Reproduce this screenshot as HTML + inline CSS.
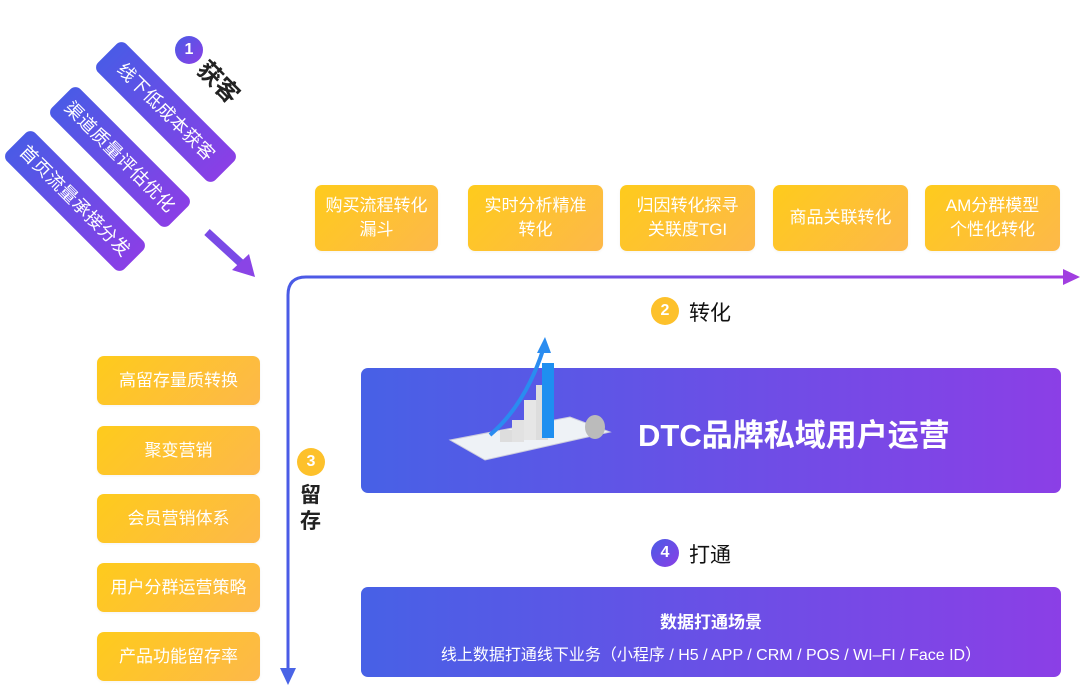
<!DOCTYPE html>
<html><head><meta charset="utf-8"><style>
body{margin:0;width:1080px;height:685px;background:#fff;position:relative;overflow:hidden;font-family:"Liberation Sans","Noto Sans CJK SC",sans-serif}
.a{position:absolute}
.card{position:absolute;width:166px;height:40px;border-radius:7px;background:linear-gradient(90deg,#4a5be6,#8a3fe6);color:#fff;font-size:18px;line-height:40px;text-align:center;transform:rotate(45deg);letter-spacing:0.5px}
.y{position:absolute;border-radius:7px;background:linear-gradient(135deg,#fecb1c,#fdb84a);color:#fff;font-size:17px;text-align:center;display:flex;align-items:center;justify-content:center;line-height:24px;box-shadow:0 1px 3px rgba(0,0,0,.05)}
.c{position:absolute;width:28px;height:28px;border-radius:50%;color:#fff;font-weight:bold;font-size:16px;text-align:center;line-height:28px}
.cy{background:#fdc12b}
.cp{background:linear-gradient(135deg,#4a5be6,#8a3fe6)}
.lab{position:absolute;font-size:21px;color:#222;font-weight:bold}
.ban{position:absolute;left:361px;width:700px;border-radius:7px;background:linear-gradient(90deg,#4761e6,#8b3fe6);color:#fff}
</style></head><body>
<div class="card" style="left:83px;top:92px">线下低成本获客</div>
<div class="card" style="left:37px;top:137px">渠道质量评估优化</div>
<div class="card" style="left:-8px;top:181px">首页流量承接分发</div>
<div class="c cp" style="left:175px;top:36px">1</div>
<div class="lab" style="left:196px;top:63px;font-size:24px;transform:rotate(45deg)">获客</div>
<svg class="a" style="left:0;top:0" width="1080" height="685">
<defs><linearGradient id="g" x1="0" x2="1"><stop offset="0" stop-color="#4a5be6"/><stop offset="1" stop-color="#a13ee0"/></linearGradient></defs>
<line x1="207" y1="232" x2="243" y2="265" stroke="#7a4ae6" stroke-width="8"/>
<polygon points="255,277 232,270 249,254" fill="#8a44e6"/>
<path d="M288,672 L288,295 Q288,277 306,277 L1066,277" fill="none" stroke="url(#g)" stroke-width="3"/>
<polygon points="1080,277 1063,269 1063,285" fill="#a13ee0"/>
<polygon points="288,685 280,668 296,668" fill="#4a64e6"/>
</svg>
<div class="y" style="left:315px;top:185px;width:123px;height:66px">购买流程转化<br>漏斗</div>
<div class="y" style="left:468px;top:185px;width:135px;height:66px">实时分析精准<br>转化</div>
<div class="y" style="left:620px;top:185px;width:135px;height:66px">归因转化探寻<br>关联度TGI</div>
<div class="y" style="left:773px;top:185px;width:135px;height:66px">商品关联转化</div>
<div class="y" style="left:925px;top:185px;width:135px;height:66px">AM分群模型<br>个性化转化</div>
<div class="c cy" style="left:651px;top:297px">2</div>
<div class="lab" style="left:689px;top:297px;font-weight:normal;color:#111">转化</div>
<div class="y" style="left:97px;top:356px;width:163px;height:49px">高留存量质转换</div>
<div class="y" style="left:97px;top:426px;width:163px;height:49px">聚变营销</div>
<div class="y" style="left:97px;top:494px;width:163px;height:49px">会员营销体系</div>
<div class="y" style="left:97px;top:563px;width:163px;height:49px">用户分群运营策略</div>
<div class="y" style="left:97px;top:632px;width:163px;height:49px">产品功能留存率</div>
<div class="c cy" style="left:297px;top:448px">3</div>
<div class="lab" style="left:300px;top:483px;line-height:26px;width:22px">留<br>存</div>
<div class="ban" style="top:368px;height:125px"></div>
<svg class="a" style="left:445px;top:335px" width="180" height="140">
<polygon points="5,105 125,82 165,97 40,125" fill="#eef2f6" stroke="#ccd" />
<rect x="55" y="95" width="12" height="12" fill="#ddd"/><rect x="67" y="85" width="12" height="22" fill="#e2e2e2"/>
<rect x="79" y="65" width="12" height="40" fill="#e6e6e6"/><rect x="91" y="50" width="12" height="55" fill="#ddd"/>
<rect x="97" y="28" width="12" height="75" fill="#1e8ff0"/>
<path d="M45,100 Q80,70 98,15" stroke="#2a8cf0" stroke-width="4" fill="none"/>
<polygon points="100,2 92,18 106,18" fill="#2a8cf0"/>
<ellipse cx="150" cy="92" rx="10" ry="12" fill="#bbb"/>
</svg>
<div class="a" style="left:638px;top:410px;color:#fff;font-size:31px;font-weight:bold">DTC品牌私域用户运营</div>
<div class="c cp" style="left:651px;top:539px">4</div>
<div class="lab" style="left:689px;top:539px;font-weight:normal;color:#111">打通</div>
<div class="ban" style="top:587px;height:90px;text-align:center">
<div style="margin-top:21px;font-size:17px;font-weight:bold">数据打通场景</div>
<div style="margin-top:8px;font-size:16px">线上数据打通线下业务（小程序 / H5 / APP / CRM / POS / WI–FI / Face ID）</div>
</div>
</body></html>
